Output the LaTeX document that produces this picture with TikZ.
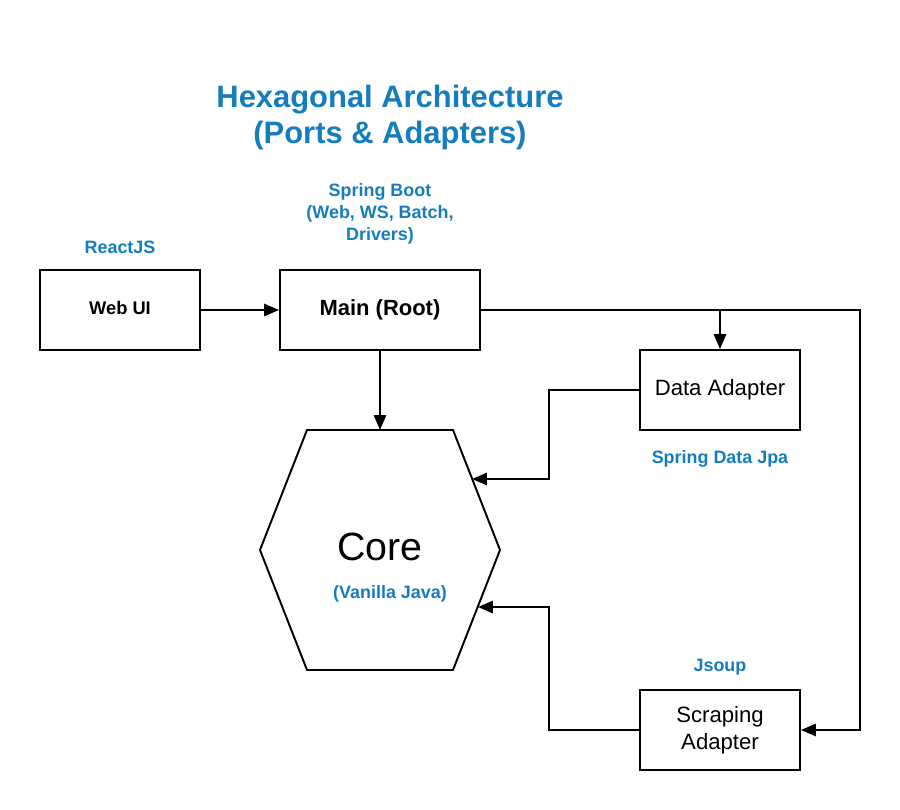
\documentclass[tikz,border=0pt]{standalone}
\usepackage{fontspec}
\setmainfont{Liberation Sans}
\usetikzlibrary{arrows.meta}
\definecolor{labelblue}{RGB}{20,125,190}

\begin{document}
\begin{tikzpicture}[
  x=0.02cm, y=-0.02cm,
  line width=1.1pt,
  >={Triangle[length=8.5pt,width=7pt]},
  box/.style={draw,minimum width=3.2cm,minimum height=1.6cm,align=center,inner sep=0pt},
  note/.style={text=labelblue,font=\bfseries\fontsize{10.2}{12.5}\selectfont,align=center}
]
  \useasboundingbox (0,0) rectangle (900,810);
  \node[text=labelblue,font=\bfseries\fontsize{17.6}{20.5}\selectfont,align=center] (title) at (390,118) {Hexagonal Architecture\\(Ports \& Adapters)};
  \node[note] (boot) at (380,214) {Spring Boot\\(Web, WS, Batch,\\Drivers)};
  \node[note] (react) at (120,247) {ReactJS};
  \node[box,font=\bfseries\fontsize{10.4}{12}\selectfont] (webui) at (120,310) {\raisebox{2pt}{Web UI}};
  \node[box,minimum width=4cm,font=\bfseries\fontsize{12.5}{14}\selectfont] (main) at (380,310) {\raisebox{2pt}{Main (Root)}};
  \node[box,font=\fontsize{12.6}{15.3}\selectfont] (data) at (720,390) {Data Adapter};
  \node[note] (jpa) at (720,459) {Spring Data Jpa};
  \node[note] (jsoup) at (720,667) {Jsoup};
  \node[box,font=\fontsize{12.6}{15.3}\selectfont] (scrap) at (720,730) {Scraping\\Adapter};
  % hexagon
  \draw (260,550) -- (307,430) -- (453,430) -- (500,550) -- (453,670) -- (307,670) -- cycle;
  \coordinate (hexN) at (380,430);
  \coordinate (hexA) at (472,479);
  \coordinate (hexB) at (478,607);
  \node[font=\fontsize{22.4}{26}\selectfont] (core) at (380,547) {Core};
  \node[note] (vanilla) at (390,594) {(Vanilla Java)};
  % connectors
  \coordinate (split) at (720,310);
  \coordinate (rturn) at (860,310);
  \draw[->] (webui) -- (main);
  \draw[->] (main.south) -- (hexN);
  \draw[->] (main.east) -- (rturn) |- (scrap.east);
  \draw[->] (split) -- (data.north);
  \draw[->] (data.west) -- ++(-90,0) |- (hexA);
  \draw[->] (scrap.west) -- ++(-90,0) |- (hexB);
\end{tikzpicture}
\end{document}
